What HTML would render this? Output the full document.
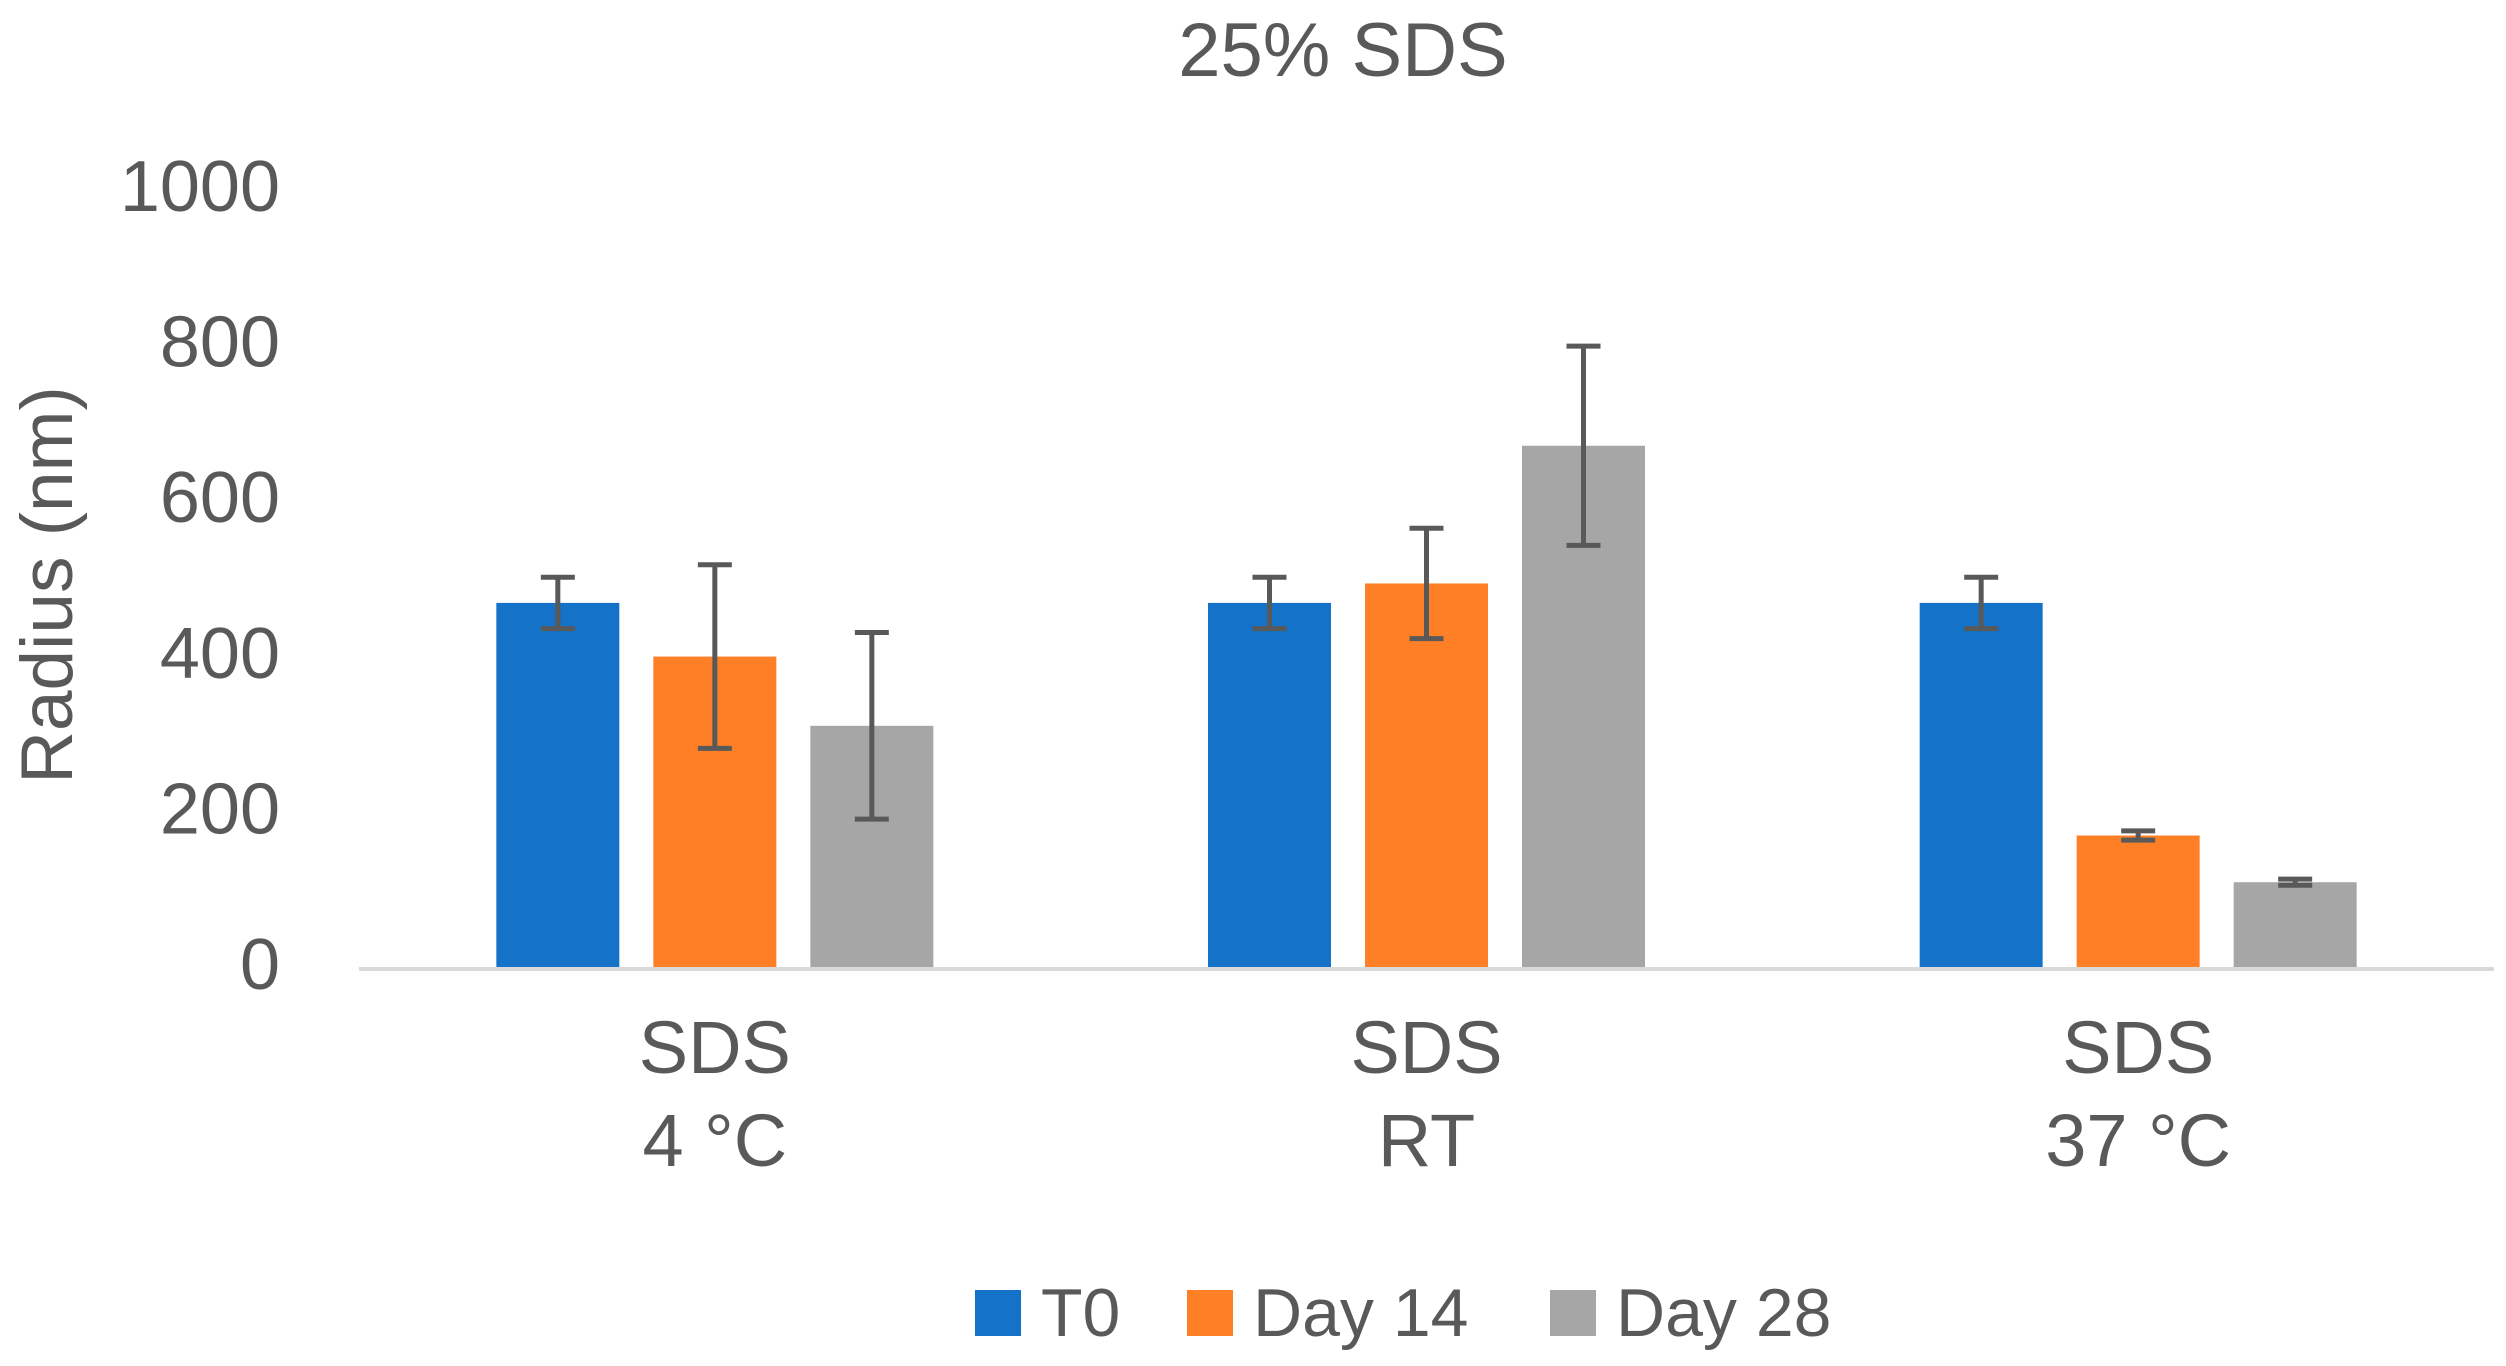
<!DOCTYPE html>
<html><head><meta charset="utf-8"><style>
html,body{margin:0;padding:0;background:#fff;}
svg{display:block;font-family:"Liberation Sans",sans-serif;}
</style></head><body>
<svg id="chart" width="2506" height="1366" viewBox="0 0 2506 1366" xmlns="http://www.w3.org/2000/svg">
<text x="1343" y="76" text-anchor="middle" font-size="76" fill="#595959">25% SDS</text>
<text transform="translate(72,585) rotate(-90)" text-anchor="middle" font-size="73" fill="#595959">Radius (nm)</text>
<g id="yticks"></g>
<g id="bars"></g>
<g id="errs"></g>
<line x1="359" y1="969" x2="2494" y2="969" stroke="#d9d9d9" stroke-width="4"/>
<g id="xlabels"></g>
<g id="legend"></g>
</svg>
<script>
const categories = [["SDS","4 °C"],["SDS","RT"],["SDS","37 °C"]];
const seriesNames = ["T0","Day 14","Day 28"];
const t0Values = [468, 468, 468];
const day14Values = [399, 493, 169];
const day28Values = [310, 670, 109];
const t0Errors = [33, 33, 33];
const day14Errors = [118, 71, 6];
const day28Errors = [120, 128, 4];
const yTicks = [0, 200, 400, 600, 800, 1000];

const colors = ["#1473c9", "#ff7f27", "#a6a6a6"];
const series = [t0Values, day14Values, day28Values];
const errors = [t0Errors, day14Errors, day28Errors];
const NS = "http://www.w3.org/2000/svg";
const plotL = 359, plotR = 2494, y0 = 967, y1000 = 189;
const yScale = v => y0 - (v / 1000) * (y0 - y1000);
const catW = (plotR - plotL) / categories.length;
const xCenter = i => plotL + catW * (i + 0.5);
const barW = 123, barGap = 34;
function mk(tag, attrs, parent) {
  const e = document.createElementNS(NS, tag);
  for (const k in attrs) e.setAttribute(k, attrs[k]);
  parent.appendChild(e);
  return e;
}
const yt = document.getElementById('yticks');
yTicks.forEach(v => {
  const t = mk('text', {x: 280, y: yScale(v) + 22, 'text-anchor': 'end', 'font-size': 72, fill: '#595959'}, yt);
  
  
  t.textContent = v;
});
const bg = document.getElementById('bars'), eg = document.getElementById('errs');
series.forEach((vals, s) => {
  vals.forEach((v, i) => {
    const cx = xCenter(i) + (s - 1) * (barW + barGap);
    const r = mk('rect', {x: cx - barW / 2, y: yScale(v), width: barW, height: y0 - yScale(v), fill: colors[s]}, bg);
    
    
    const e = errors[s][i];
    const yt2 = yScale(v + e), yb = yScale(v - e);
    const g = mk('g', {stroke: '#595959', 'stroke-width': 5}, eg);
    
    
    mk('line', {x1: cx, y1: yt2, x2: cx, y2: yb}, g);
    mk('line', {x1: cx - 17, y1: yt2, x2: cx + 17, y2: yt2}, g);
    mk('line', {x1: cx - 17, y1: yb, x2: cx + 17, y2: yb}, g);
  });
});
const xl = document.getElementById('xlabels');
categories.forEach((c, i) => {
  c.forEach((line, j) => {
    const t = mk('text', {x: xCenter(i), y: 1073 + j * 93, 'text-anchor': 'middle', 'font-size': 74, fill: '#595959'}, xl);
    
    
    t.textContent = line;
  });
});
const lg = document.getElementById('legend');
const legX = [975, 1187, 1550];
seriesNames.forEach((n, s) => {
  const g = mk('g', {}, lg);
  
  
  mk('rect', {x: legX[s], y: 1290, width: 46, height: 46, fill: colors[s]}, g);
  const t = mk('text', {x: legX[s] + 66, y: 1336, 'font-size': 68, fill: '#595959'}, g);
  t.textContent = n;
});
</script>
</body></html>
